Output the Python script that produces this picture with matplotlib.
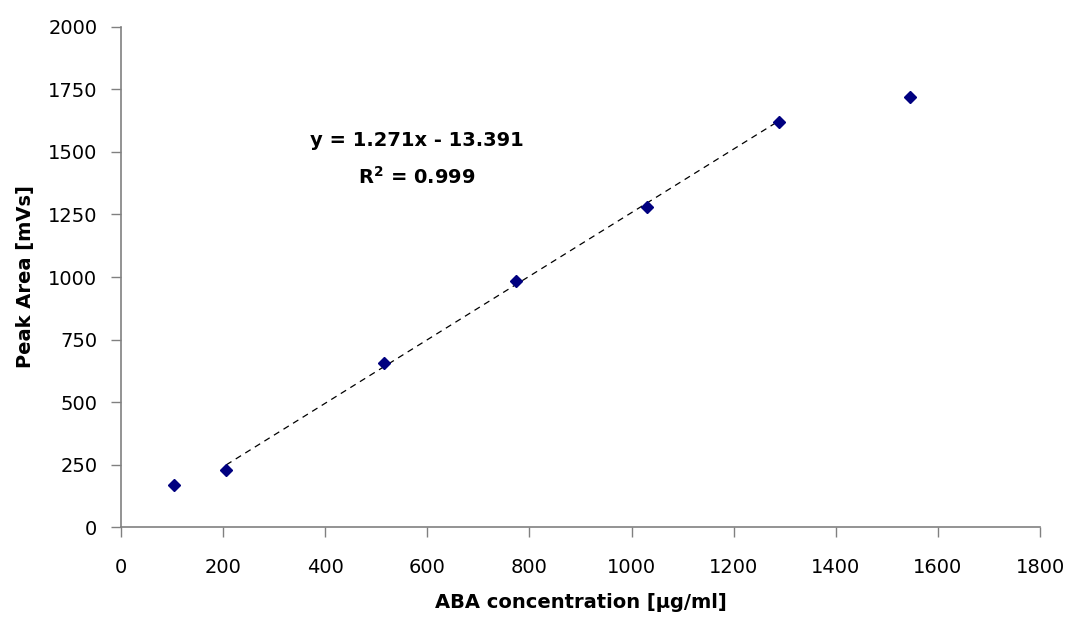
import numpy as np
import matplotlib
matplotlib.use('Agg')
import matplotlib.pyplot as plt

# 数据
conc = [103, 206, 515, 773, 1031, 1289, 1546]
area = [167, 228, 655, 985, 1279, 1619, 1720]

# 趋势线参数（图中标注）
slope = 1.271
intercept = -13.391
r2 = 0.999
fit_idx = [1, 2, 3, 4, 5]  # 参与拟合的点

x_ticks = [0, 200, 400, 600, 800, 1000, 1200, 1400, 1600, 1800]
y_ticks = [0, 250, 500, 750, 1000, 1250, 1500, 1750, 2000]

plt.rcParams['font.family'] = ['DejaVu Sans']

fig = plt.figure(figsize=(10.68, 6.19), dpi=100)
ax = fig.add_axes([0.1133, 0.1486, 0.8605, 0.8078])

# 散点
ax.plot(conc, area, linestyle='none', marker='D', markersize=6.5,
        color='#000080', zorder=3)

# 趋势线
xf = np.array([conc[fit_idx[0]], conc[fit_idx[-1]]])
ax.plot(xf, slope * xf + intercept, color='black', linewidth=0.9,
        dashes=(5, 4), zorder=2)

ax.text(579, 1545, 'y = %.3fx - %.3f' % (slope, -intercept), ha='center',
        va='center', fontsize=14, fontweight='bold')
ax.text(579, 1401, r'R$^{\mathbf{2}}$ = %.3f' % r2, ha='center', va='center',
        fontsize=14, fontweight='bold')

ax.set_xlim(0, 1800)
ax.set_ylim(0, 2000)
ax.set_xticks(x_ticks)
ax.set_yticks(y_ticks)

for s in ['top', 'right']:
    ax.spines[s].set_visible(False)
for s in ['left', 'bottom']:
    ax.spines[s].set_color('#808080')
    ax.spines[s].set_linewidth(1.2)

ax.tick_params(direction='out', length=7, width=1.0, color='#808080',
               labelsize=14)
ax.tick_params(axis='x', pad=15)
ax.tick_params(axis='y', pad=10)

ax.set_xlabel('ABA concentration [µg/ml]', fontsize=14, fontweight='bold',
              labelpad=12)
ax.set_ylabel('Peak Area [mVs]', fontsize=14, fontweight='bold', labelpad=9)

fig.savefig('out.png', dpi=100)
